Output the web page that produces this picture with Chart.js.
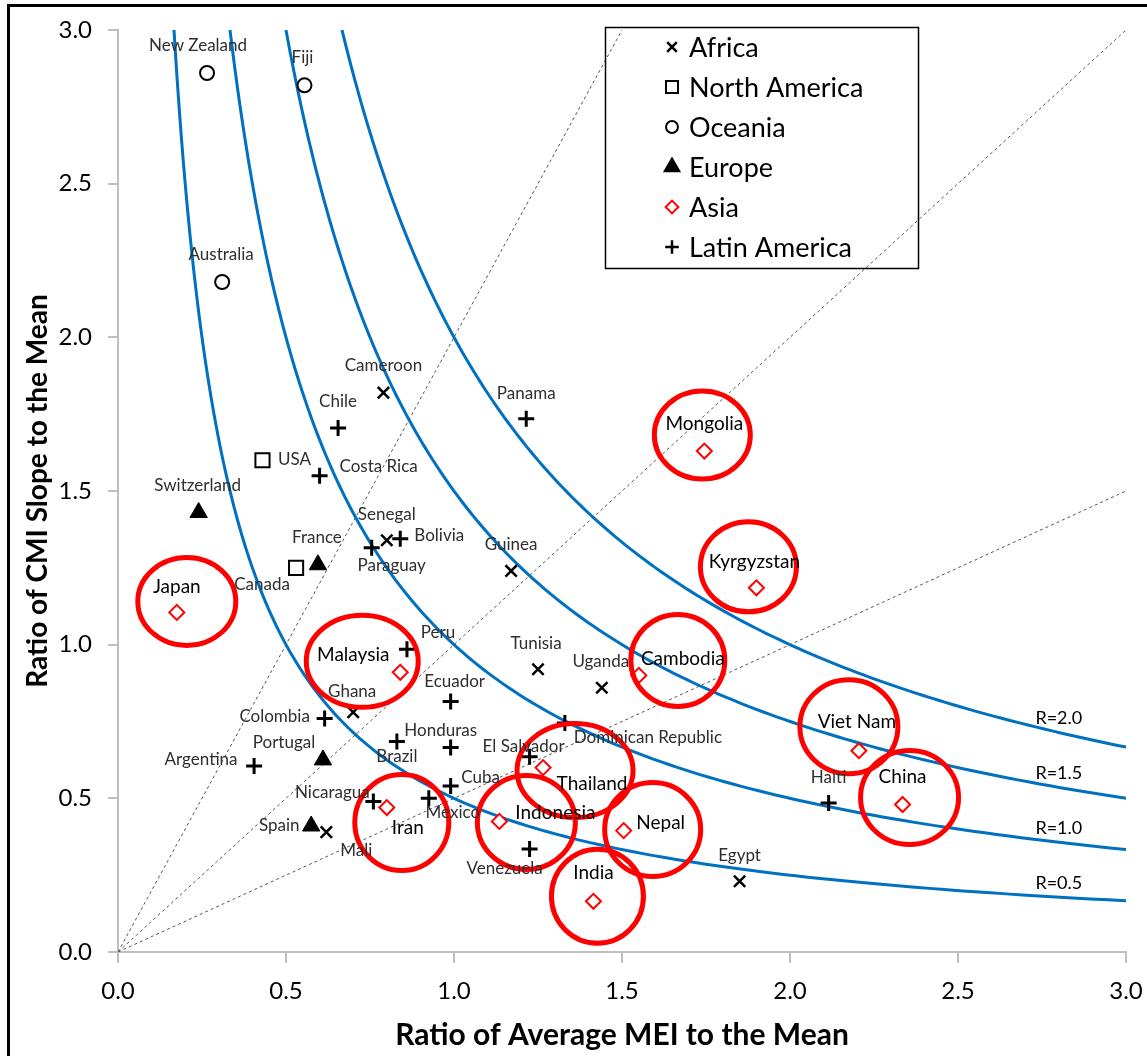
<!DOCTYPE html>
<html>
<head>
<meta charset="utf-8">
<script src="https://cdn.jsdelivr.net/npm/chart.js"></script>
<style>
  html, body { margin: 0; padding: 0; background: #fff; overflow: hidden; }
  #wrap { position: relative; width: 1147px; height: 1056px; }
  #frame { position: absolute; left: 7px; top: 4px; width: 1138px; height: 1060px;
           border-top: 3px solid #000; border-left: 3px solid #000; pointer-events: none; }
  canvas { position: absolute; left: 0; top: 0; }
</style>
</head>
<body>
<div id="wrap">
  <canvas id="mei-cmi-chart" width="1147" height="1056"></canvas>
  <div id="frame"></div>
</div>
<script>
// values (x = average MEI ratio, y = CMI slope ratio)
const africaNames = ['Cameroon', 'Senegal', 'Guinea', 'Tunisia', 'Uganda', 'Ghana', 'Mali', 'Egypt'];
const africaX = [0.79, 0.80, 1.17, 1.25, 1.44, 0.70, 0.62, 1.85];
const africaY = [1.82, 1.34, 1.24, 0.92, 0.86, 0.78, 0.39, 0.23];

const northAmericaNames = ['USA', 'Canada'];
const northAmericaX = [0.43, 0.53];
const northAmericaY = [1.60, 1.25];

const oceaniaNames = ['New Zealand', 'Fiji', 'Australia'];
const oceaniaX = [0.265, 0.555, 0.31];
const oceaniaY = [2.86, 2.82, 2.18];

const europeNames = ['Switzerland', 'France', 'Portugal', 'Spain'];
const europeX = [0.24, 0.595, 0.61, 0.575];
const europeY = [1.43, 1.26, 0.625, 0.41];

const asiaNames = ['Japan', 'Malaysia', 'Mongolia', 'Kyrgyzstan', 'Cambodia', 'Viet Nam', 'China',
  'Thailand', 'Iran', 'Indonesia', 'Nepal', 'India'];
const asiaX = [0.175, 0.84, 1.745, 1.90, 1.55, 2.205, 2.335, 1.265, 0.80, 1.135, 1.505, 1.415];
const asiaY = [1.105, 0.91, 1.63, 1.185, 0.90, 0.655, 0.48, 0.60, 0.47, 0.425, 0.395, 0.165];

const latinNames = ['Chile', 'Costa Rica', 'Panama', 'Bolivia', 'Paraguay', 'Peru', 'Ecuador', 'Colombia',
  'Honduras', 'Brazil', 'El Salvador', 'Dominican Republic', 'Argentina', 'Cuba', 'Nicaragua', 'Mexico',
  'Venezuela', 'Haiti'];
const latinX = [0.655, 0.60, 1.215, 0.84, 0.755, 0.86, 0.99, 0.615, 0.99, 0.83, 1.225, 1.33, 0.405,
  0.99, 0.76, 0.925, 1.225, 2.115];
const latinY = [1.705, 1.55, 1.735, 1.345, 1.315, 0.985, 0.815, 0.76, 0.665, 0.685, 0.635, 0.745, 0.605,
  0.54, 0.49, 0.50, 0.335, 0.485];

// iso-lines x*y = R and the rays y = k*x
const rValues = [0.5, 1.0, 1.5, 2.0];
const raySlopes = [2, 1, 0.5];
const axisMin = 0;
const axisMax = 3;

// label placement (pixel offsets from the marker)
const labelOffset = {
  'Cameroon': [0, -27], 'Senegal': [0, -26], 'Guinea': [0, -26], 'Tunisia': [-2, -26],
  'Uganda': [-1, -26], 'Ghana': [-1, -21], 'Mali': [30, 18], 'Egypt': [0, -26],
  'USA': [32, -1], 'Canada': [-34, 17],
  'New Zealand': [-9, -28], 'Fiji': [-2, -28], 'Australia': [-1, -27],
  'Switzerland': [-1, -27], 'France': [-1, -27], 'Portugal': [-39, -17], 'Spain': [-32, 0],
  'Chile': [0, -26], 'Costa Rica': [59, -9], 'Panama': [0, -25], 'Bolivia': [39, -3],
  'Paraguay': [20, 18], 'Peru': [31, -17], 'Ecuador': [4, -20], 'Colombia': [-50, -2],
  'Honduras': [-10, -17], 'Brazil': [0, 15], 'El Salvador': [-6, -10], 'Dominican Republic': [83, 14],
  'Argentina': [-53, -7], 'Cuba': [30, -9], 'Nicaragua': [-41, -9], 'Mexico': [24, 14],
  'Venezuela': [-25, 19], 'Haiti': [0, -25],
  'Japan': [0, -26], 'Malaysia': [-47, -17], 'Mongolia': [0, -27], 'Kyrgyzstan': [-2, -26],
  'Cambodia': [44, -17], 'Viet Nam': [-2, -29], 'China': [0, -28], 'Thailand': [49, 16],
  'Iran': [21, 20], 'Indonesia': [56, -9], 'Nepal': [37, -8], 'India': [0, -28]
};

// red rings round the Asian countries: [dx, dy, rx, ry] in pixels
const asiaRing = {
  'Japan': [10, -11, 49, 44], 'Malaysia': [-38, -11, 56, 46], 'Mongolia': [-2, -16, 48, 44],
  'Kyrgyzstan': [-8, -21, 48, 45], 'Cambodia': [39, -15, 47, 46], 'Viet Nam': [-10, -24, 49, 47],
  'China': [7, -7, 49, 47], 'Thailand': [32, 3, 58, 47], 'Iran': [15, 15, 47, 48],
  'Indonesia': [27, 1, 49, 47], 'Nepal': [29, -1, 48, 47], 'India': [4, -5, 46, 47]
};

const FONT = 'Lato, "Open Sans", sans-serif';

const toPoints = (xs, ys) => xs.map((x, i) => ({ x: x, y: ys[i] }));

const curvePoints = r => {
  let pts = [];
  const n = 160;
  const x0 = r / axisMax;
  for (let k = 0; k <= n; k++) {
    const x = x0 * Math.pow(axisMax / x0, k / n);
    pts.push({ x: x, y: r / x });
  }
  return pts;
};

const rayPoints = k => {
  const xEnd = Math.min(axisMax, axisMax / k);
  return [{ x: 0, y: 0 }, { x: xEnd, y: k * xEnd }];
};

const series = [
  { label: 'Africa', names: africaNames, data: toPoints(africaX, africaY),
    pointStyle: 'crossRot', radius: 8, borderWidth: 2.5, borderColor: '#000', backgroundColor: '#000' },
  { label: 'North America', names: northAmericaNames, data: toPoints(northAmericaX, northAmericaY),
    pointStyle: 'rect', radius: 10, borderWidth: 2, borderColor: '#000', backgroundColor: '#fff' },
  { label: 'Oceania', names: oceaniaNames, data: toPoints(oceaniaX, oceaniaY),
    pointStyle: 'circle', radius: 7, borderWidth: 2, borderColor: '#000', backgroundColor: '#fff' },
  { label: 'Europe', names: europeNames, data: toPoints(europeX, europeY),
    pointStyle: 'triangle', radius: 10, borderWidth: 1, borderColor: '#000', backgroundColor: '#000' },
  { label: 'Asia', names: asiaNames, data: toPoints(asiaX, asiaY),
    pointStyle: 'rectRot', radius: 7.5, borderWidth: 2, borderColor: '#ff0000', backgroundColor: '#fff' },
  { label: 'Latin America', names: latinNames, data: toPoints(latinX, latinY),
    pointStyle: 'cross', radius: 8, borderWidth: 3, borderColor: '#000', backgroundColor: '#000' }
];

const datasets = [];

raySlopes.forEach(k => {
  datasets.push({
    type: 'line', label: 'ray', data: rayPoints(k), borderColor: '#555', borderWidth: 1,
    borderDash: [3, 3], pointRadius: 0, fill: false, order: 30
  });
});

rValues.forEach(r => {
  datasets.push({
    type: 'line', label: 'R=' + r.toFixed(1), data: curvePoints(r), borderColor: '#0070c0',
    borderWidth: 3, pointRadius: 0, tension: 0, fill: false, order: 20
  });
});

series.forEach(s => {
  datasets.push({
    type: 'scatter', label: s.label, names: s.names, data: s.data,
    pointStyle: s.pointStyle, pointRadius: s.radius, borderWidth: s.borderWidth,
    borderColor: s.borderColor, backgroundColor: s.backgroundColor, order: 10
  });
});

const labelsPlugin = {
  id: 'countryLabels',
  afterDatasetsDraw(chart) {
    const ctx = chart.ctx;
    ctx.save();
    // red rings
    chart.data.datasets.forEach((ds, di) => {
      if (ds.label !== 'Asia') return;
      const meta = chart.getDatasetMeta(di);
      meta.data.forEach((pt, i) => {
        const ring = asiaRing[ds.names[i]];
        ctx.beginPath();
        ctx.ellipse(pt.x + ring[0], pt.y + ring[1], ring[2], ring[3], 0, 0, Math.PI * 2);
        ctx.lineWidth = 5;
        ctx.strokeStyle = '#ff0000';
        ctx.stroke();
      });
    });
    // names
    ctx.textAlign = 'center';
    ctx.textBaseline = 'middle';
    chart.data.datasets.forEach((ds, di) => {
      if (!ds.names) return;
      const meta = chart.getDatasetMeta(di);
      const asia = ds.label === 'Asia';
      ctx.font = asia ? '19px ' + FONT : '17px ' + FONT;
      ctx.fillStyle = asia ? '#000' : '#2e2e2e';
      meta.data.forEach((pt, i) => {
        const off = labelOffset[ds.names[i]] || [0, -26];
        ctx.fillText(ds.names[i], pt.x + off[0], pt.y + off[1]);
      });
    });
    ctx.restore();
  },
  afterDraw(chart) {
    const ctx = chart.ctx;
    const xs = chart.scales.x;
    const ys = chart.scales.y;
    ctx.save();
    // R labels near the right end of each curve
    ctx.font = '18px ' + FONT;
    ctx.fillStyle = '#000';
    ctx.textAlign = 'center';
    ctx.textBaseline = 'middle';
    rValues.forEach(r => {
      const xv = 2.8;
      ctx.fillText('R=' + r.toFixed(1), xs.getPixelForValue(xv), ys.getPixelForValue(r / xv) - 14);
    });
    // legend box
    ctx.lineWidth = 1.5;
    ctx.strokeStyle = '#000';
    ctx.strokeRect(605.5, 27.5, 313, 241);
    ctx.font = '27px ' + FONT;
    ctx.textAlign = 'left';
    series.forEach((s, i) => {
      const y = 47 + i * 40;
      ctx.fillStyle = s.backgroundColor;
      ctx.strokeStyle = s.borderColor;
      ctx.lineWidth = s.pointStyle === 'cross' || s.pointStyle === 'crossRot' ? 2.5 : 2;
      Chart.helpers.drawPoint(ctx, {
        pointStyle: s.pointStyle, radius: s.radius * 0.85, rotation: 0, borderWidth: ctx.lineWidth
      }, 672, y);
      ctx.fillStyle = '#000';
      ctx.fillText(s.label, 689, y + 1);
    });
    ctx.restore();
  }
};

const ctx = document.getElementById('mei-cmi-chart').getContext('2d');

new Chart(ctx, {
  data: { datasets: datasets },
  options: {
    responsive: false,
    animation: false,
    events: [],
    layout: { padding: { top: 30, right: 21, left: 0, bottom: 0 } },
    plugins: {
      legend: { display: false },
      tooltip: { enabled: false }
    },
    scales: {
      x: {
        type: 'linear', min: axisMin, max: axisMax,
        afterFit: s => { s.height = 104; s.paddingRight = 0; s.paddingLeft = 0; },
        ticks: { stepSize: 0.5, callback: v => v.toFixed(1), color: '#000', padding: 14,
          font: { family: FONT, size: 24 }, maxRotation: 0 },
        grid: { drawOnChartArea: false, drawTicks: true, tickLength: 11, color: '#bfbfbf', lineWidth: 2 },
        border: { color: '#bfbfbf', width: 2 },
        title: { display: true, text: 'Ratio of Average MEI to the Mean', color: '#000',
          font: { family: FONT, size: 30, weight: 'bold' }, padding: { top: 0, bottom: 3 } }
      },
      y: {
        type: 'linear', min: axisMin, max: axisMax,
        afterFit: s => { s.width = 118; s.paddingTop = 0; s.paddingBottom = 0; },
        ticks: { stepSize: 0.5, callback: v => v.toFixed(1), color: '#000', padding: 16,
          font: { family: FONT, size: 24 } },
        grid: { drawOnChartArea: false, drawTicks: true, tickLength: 10, color: '#bfbfbf', lineWidth: 2 },
        border: { color: '#bfbfbf', width: 2 },
        title: { display: true, text: 'Ratio of CMI Slope to the Mean', color: '#000',
          font: { family: FONT, size: 28, weight: 'bold' }, padding: { top: 21, bottom: 0 } }
      }
    }
  },
  plugins: [labelsPlugin]
});
</script>
</body>
</html>
